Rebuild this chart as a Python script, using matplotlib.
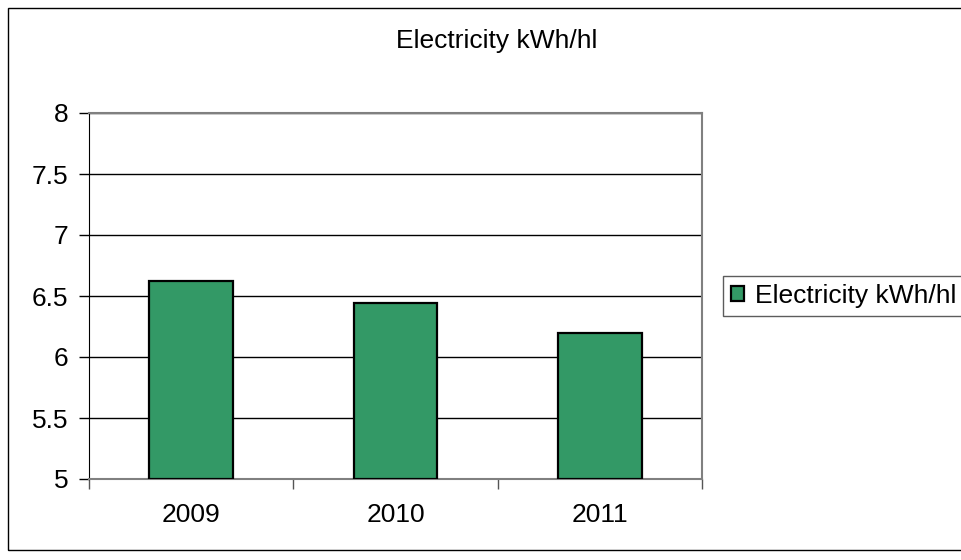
import matplotlib
matplotlib.use("Agg")
import matplotlib.pyplot as plt
from matplotlib.patches import Rectangle

categories = ["2009", "2010", "2011"]
values = [6.62, 6.44, 6.20]
series_name = "Electricity kWh/hl"
title = "Electricity kWh/hl"
yticks = [5, 5.5, 6, 6.5, 7, 7.5, 8]
ytick_labels = ["5", "5.5", "6", "6.5", "7", "7.5", "8"]

plt.rcParams['font.family'] = ['Liberation Sans', 'DejaVu Sans']
FS = 19

W, H = 962, 560
fig = plt.figure(figsize=(W / 100, H / 100), dpi=100)
fig.patch.set_facecolor('white')

# outer chart border
fig.patches.append(Rectangle((8 / W, 1 - 550 / H), (W + 5 - 8) / W, (550 - 8) / H,
                             transform=fig.transFigure, fill=False,
                             edgecolor='black', linewidth=1.0))

ax = fig.add_axes([89 / W, 1 - 479 / H, (702 - 89) / W, (479 - 113) / H])
x = list(range(len(categories)))
ax.bar(x, [v - 5 for v in values], bottom=5, width=0.41, color='#339966',
       edgecolor='black', linewidth=1.6, label=series_name, zorder=3)

ax.set_xlim(-0.5, 2.5)
ax.set_ylim(5, 8)
ax.set_yticks(yticks)
ax.set_yticklabels(ytick_labels)
ax.set_xticks([-0.5, 0.5, 1.5, 2.5])
ax.set_xticklabels([])
ax.set_xticks(x, minor=True)
ax.set_xticklabels(categories, minor=True)
ax.tick_params(axis='x', which='minor', length=0, pad=17, labelsize=FS)
ax.tick_params(axis='x', which='major', direction='out', length=7, width=1, color='#555555')
ax.tick_params(axis='y', direction='out', length=7, width=1, pad=8, labelsize=FS)

ax.yaxis.grid(True, color='black', linewidth=1.0, zorder=0)
ax.set_axisbelow(True)

for s in ['top', 'right']:
    ax.spines[s].set_color('#808080')
    ax.spines[s].set_linewidth(1.5)
ax.spines['left'].set_color('black')
ax.spines['bottom'].set_color('#808080')
ax.spines['bottom'].set_linewidth(1.5)

fig.text(497 / W, 1 - 48 / H, title, ha='center', va='baseline', fontsize=FS)

leg = fig.legend(loc='center left', bbox_to_anchor=(723 / W, 1 - 296 / H),
                 fontsize=FS, frameon=True, fancybox=False, edgecolor='#333333',
                 handlelength=0.5, handleheight=0.5, handletextpad=0.4,
                 borderpad=0.3, borderaxespad=0)
leg.get_frame().set_linewidth(1.0)

fig.savefig('out.png', dpi=100)
